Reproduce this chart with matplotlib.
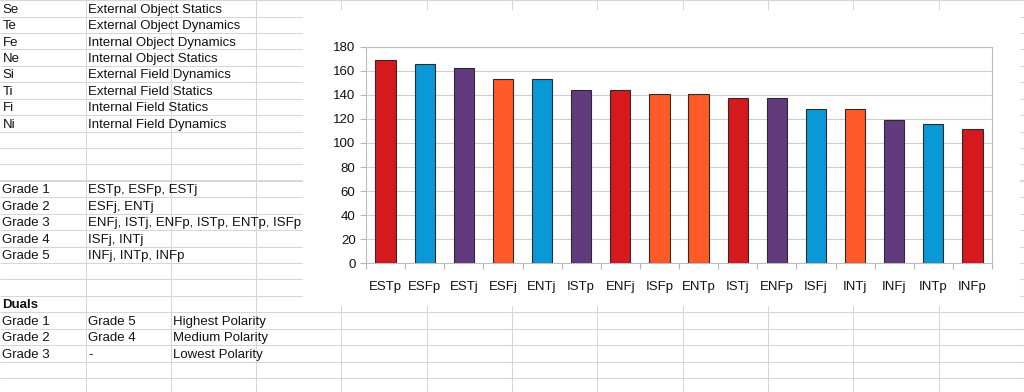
import matplotlib
matplotlib.use("Agg")
import matplotlib.pyplot as plt
from matplotlib.patches import Rectangle

# ---------------- data ----------------
categories = ['ESTp', 'ESFp', 'ESTj', 'ESFj', 'ENTj', 'ISTp', 'ENFj', 'ISFp',
              'ENTp', 'ISTj', 'ENFp', 'ISFj', 'INTj', 'INFj', 'INTp', 'INFp']
values = [169, 166, 162, 153, 153, 144, 144, 141, 141, 137, 137, 128, 128, 119, 116, 112]
bar_colors = ['#D6191E', '#0A98D6', '#643A7E', '#FF5A28', '#0A98D6', '#643A7E', '#D6191E', '#FF5A28',
              '#FF5A28', '#D6191E', '#643A7E', '#0A98D6', '#FF5A28', '#643A7E', '#0A98D6', '#D6191E']
y_ticks = [0, 20, 40, 60, 80, 100, 120, 140, 160, 180]

# spreadsheet cells
element_codes = ['Se', 'Te', 'Fe', 'Ne', 'Si', 'Ti', 'Fi', 'Ni']
element_names = ['External Object Statics', 'External Object Dynamics', 'Internal Object Dynamics',
                 'Internal Object Statics', 'External Field Dynamics', 'External Field Statics',
                 'Internal Field Statics', 'Internal Field Dynamics']
grade_labels = ['Grade 1', 'Grade 2', 'Grade 3', 'Grade 4', 'Grade 5']
grade_members = ['ESTp, ESFp, ESTj', 'ESFj, ENTj', 'ENFj, ISTj, ENFp, ISTp, ENTp, ISFp',
                 'ISFj, INTj', 'INFj, INTp, INFp']
duals_title = 'Duals'
dual_a = ['Grade 1', 'Grade 2', 'Grade 3']
dual_b = ['Grade 5', 'Grade 4', '-']
dual_desc = ['Highest Polarity', 'Medium Polarity', 'Lowest Polarity']

# ---------------- layout ----------------
W, H = 1024, 392
plt.rcParams['font.family'] = ['Liberation Sans', 'DejaVu Sans']
fig = plt.figure(figsize=(W / 100, H / 100), dpi=100)
bg = fig.add_axes([0, 0, 1, 1])
bg.set_xlim(0, W)
bg.set_ylim(H, 0)
bg.axis('off')

row_h = 16.43
row0_base = 12.7
col_w = 85.3
col0 = 85.5
n_rows = 24
grid_c = '#d6d6d6'
FS = 9.5

def baseline(r):
    return row0_base + row_h * r

col_text_x = [2.5, 88.0, 173.0]
cells = []
for i, (c, n) in enumerate(zip(element_codes, element_names)):
    cells.append((i, 0, c, 'normal'))
    cells.append((i, 1, n, 'normal'))
for i, (g, m) in enumerate(zip(grade_labels, grade_members)):
    cells.append((11 + i, 0, g, 'normal'))
    cells.append((11 + i, 1, m, 'normal'))
cells.append((18, 0, duals_title, 'bold'))
for i in range(3):
    cells.append((19 + i, 0, dual_a[i], 'normal'))
    cells.append((19 + i, 1, dual_b[i], 'normal'))
    cells.append((19 + i, 2, dual_desc[i], 'normal'))

for r, c, s, w in cells:
    bg.text(col_text_x[c], baseline(r), s, fontsize=FS, fontweight=w,
            ha='left', va='baseline', color='#111111', zorder=3)

# horizontal grid lines
for k in range(-1, n_rows):
    y = row0_base - 4.4 + 8.2 + row_h * k
    lw = 1.3 if k == 10 else 0.75
    bg.plot([0, W], [y, y], color=grid_c, lw=lw, zorder=1, solid_capstyle='butt')

# vertical grid lines
for j in range(12):
    xg = col0 + col_w * j
    bg.plot([xg, xg], [0, H], color=grid_c, lw=0.75, zorder=1, solid_capstyle='butt')

# chart white background
bg.add_patch(Rectangle((303, 10), 1020 - 303, 306 - 10, facecolor='white', edgecolor='none', zorder=2))

# ---------------- chart ----------------
px_l, px_r, px_t, px_b = 366, 992, 46.7, 263.3
ax = fig.add_axes([px_l / W, 1 - px_b / H, (px_r - px_l) / W, (px_b - px_t) / H])
ax.set_facecolor('none')
x = list(range(len(categories)))
ax.bar(x, values, width=0.52, color=bar_colors, edgecolor='#2b2b2b', linewidth=0.8, zorder=3)
ax.set_xlim(-0.5, len(categories) - 0.5)
ax.set_ylim(0, 180)
ax.set_yticks(y_ticks)
ax.set_yticklabels([str(v) for v in y_ticks], fontsize=FS, color='#111111')
ax.yaxis.grid(True, color='#cfcfcf', lw=0.8, zorder=0)
ax.set_axisbelow(True)
ax.set_xticks(x)
ax.set_xticklabels(categories, fontsize=FS, color='#111111')
ax.set_xticks([i - 0.5 for i in range(len(categories) + 1)], minor=True)
ax.tick_params(axis='x', which='major', length=0, pad=13)
ax.tick_params(axis='x', which='minor', length=4.5, width=0.8, color='#b5b5b5', direction='out')
ax.tick_params(axis='y', length=4.5, width=0.8, color='#b5b5b5', pad=3)
for s in ax.spines.values():
    s.set_color('#bdbdbd')
    s.set_linewidth(0.8)

fig.savefig('out.png', dpi=100)
